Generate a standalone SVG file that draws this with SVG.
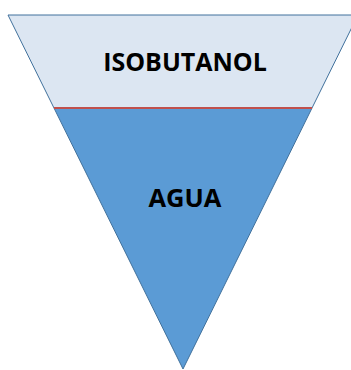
<svg xmlns="http://www.w3.org/2000/svg" width="351" height="370" viewBox="0 0 351 370">
<style>
.lbl{font-family:"Open Sans","Liberation Sans",sans-serif;font-weight:bold;fill:#000;text-anchor:middle}
</style>
<rect width="351" height="370" fill="#fff"/>
<g id="isobutanol">
<polygon points="8,15 358,15 312,108 54,108" fill="#dce6f2"/>
<text class="lbl" x="185" y="71" font-size="25">ISOBUTANOL</text>
</g>
<g id="agua">
<polygon points="54,108 312,108 183,369" fill="#5b9bd5"/>
<text class="lbl" x="185" y="207" font-size="25.5">AGUA</text>
</g>
<g id="outline">
<polygon points="8,15 358,15 183,369" fill="none" stroke="#41719c" stroke-width="1"/>
<line x1="54" y1="108" x2="312" y2="108" stroke="#c0504d" stroke-width="2"/>
</g>
</svg>
